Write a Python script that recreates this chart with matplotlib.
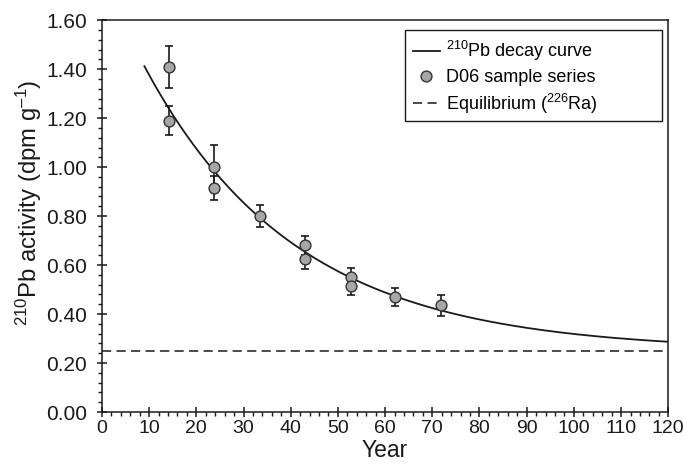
import numpy as np
import matplotlib
matplotlib.use('Agg')
import matplotlib.pyplot as plt
from matplotlib.patches import Rectangle
from matplotlib.ticker import MultipleLocator, FormatStrFormatter

# Plot configuration:
plt.rcParams['font.family'] = ['Liberation Sans', 'DejaVu Sans']
plt.rcParams['mathtext.fontset'] = 'custom'
plt.rcParams['mathtext.rm'] = 'Liberation Sans'
plt.rcParams['mathtext.default'] = 'regular'
Color_pts = "#a6a6a6"   # Marker fill
Color_ink = "#1a1a1a"   # Lines, edges, text

# Data:
year = [14.3, 14.3, 23.8, 23.8, 33.5, 43.1, 43.1, 52.7, 52.7, 62.2, 71.8]
activity = [1.41, 1.19, 1.00, 0.915, 0.80, 0.68, 0.625, 0.55, 0.515, 0.47, 0.435]
activity_err = [0.085, 0.06, 0.09, 0.05, 0.045, 0.04, 0.043, 0.04, 0.038, 0.038, 0.042]

# Decay model parameters:
half_life = 22.3        # 210Pb half life [yr]
supported = 0.25        # 226Ra equilibrium activity [dpm/g]
excess_0 = 1.537        # Unsupported activity at year 0 [dpm/g]
curve_start, curve_end = 9.0, 120.0

lam = np.log(2) / half_life
t_curve = np.linspace(curve_start, curve_end, 300)
a_curve = supported + excess_0 * np.exp(-lam * t_curve)

fig = plt.figure(figsize=(6.84, 4.69), dpi=100)
ax = fig.add_axes([0.149, 0.1215, 0.828, 0.8355])

ax.plot(t_curve, a_curve, color=Color_ink, lw=1.3, label='$^{210}$Pb decay curve', zorder=2)
ax.errorbar(year, activity, yerr=activity_err, fmt='none', ecolor=Color_ink,
            elinewidth=1.2, capsize=3, capthick=1.2, zorder=3)
ax.plot(year, activity, 'o', ms=7.8, mfc=Color_pts, mec='#333333', mew=1.0,
        label='D06 sample series', zorder=4)
ax.axhline(supported, color=Color_ink, lw=1.1, ls=(0, (6, 3.5)),
           label='Equilibrium ($^{226}$Ra)', zorder=1)

# Axes:
ax.set_xlim(0, 120)
ax.set_ylim(0, 1.6)
ax.xaxis.set_major_locator(MultipleLocator(10))
ax.xaxis.set_minor_locator(MultipleLocator(2))
ax.yaxis.set_major_locator(MultipleLocator(0.2))
ax.yaxis.set_minor_locator(MultipleLocator(0.04))
ax.yaxis.set_major_formatter(FormatStrFormatter('%.2f'))
ax.tick_params(which='major', direction='inout', length=7, width=1.1, colors=Color_ink)
ax.tick_params(axis='x', which='major', pad=2, labelsize=14)
ax.tick_params(axis='y', which='major', pad=7, labelsize=15)
ax.tick_params(which='minor', direction='out', length=3, width=1.0, colors=Color_ink)
for s in ax.spines.values():
    s.set_linewidth(1.1)
    s.set_color(Color_ink)

ax.set_xlabel('Year', fontsize=16.5, color=Color_ink, labelpad=2)
ax.set_ylabel('$^{210}$Pb activity (dpm g$^{\u2013 1}$)', fontsize=17.2,
              color=Color_ink, labelpad=2, y=0.534)

# Legend: entries without frame, box drawn wider than the entries
leg = ax.legend(loc='upper left', bbox_to_anchor=(0.549, 0.952), fontsize=13,
                frameon=False, handlelength=1.5, handletextpad=0.35,
                labelspacing=0.32, borderpad=0, borderaxespad=0)
ax.add_patch(Rectangle((0.5353, 0.742), 0.4537, 0.232, transform=ax.transAxes,
                       fill=True, facecolor='white', edgecolor=Color_ink,
                       lw=1.0, zorder=5))
leg.set_zorder(6)

fig.savefig('out.png', dpi=100)
